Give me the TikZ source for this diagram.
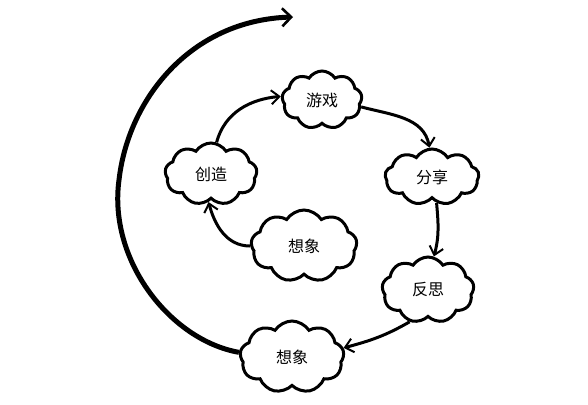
\documentclass[tikz,border=0pt]{standalone}
\usepackage{fontspec}
\setmainfont{Noto Sans CJK SC}
\usetikzlibrary{shapes.symbols,arrows.meta}
\begin{document}
\begin{tikzpicture}[x=1pt,y=-1pt]
	\tikzstyle{every node}+=[font=\fontsize{16}{18}\selectfont]
	\tikzstyle{bubble}=[cloud, cloud puffs=9, cloud puff arc=115, draw=black, line width=3pt, inner sep=0pt]
	\tikzstyle{link}=[line width=3pt, -{Straight Barb[length=8pt,width=14pt,line width=2pt]}]
	\useasboundingbox (0,0) rectangle (588,404);
	\node [bubble, minimum width=80, minimum height=58] (play) at (322,100) {游戏};
	\node [bubble, minimum width=92, minimum height=62] (create) at (211,174) {创造};
	\node [bubble, minimum width=106, minimum height=72] (imagineA) at (304,246) {想象};
	\node [bubble, minimum width=94, minimum height=56] (share) at (432,177) {分享};
	\node [bubble, minimum width=92, minimum height=66] (reflect) at (428,290) {反思};
	\node [bubble, minimum width=104, minimum height=72] (imagineB) at (292,357) {想象};
	\coordinate (top) at (293,17);
	\draw [link] (play.-10) to[out=-15,in=100] (share.95);
	\draw [link] (share.-80) to[out=-85,in=75] (reflect.80);
	\draw [link] (reflect.-120) to[out=-150,in=15] (imagineB.10);
	\draw [link] (imagineA.180) to[out=180,in=-75] (create.-95);
	\draw [link] (create.80) to[out=75,in=185] (play.175);
	\draw [line width=5pt, -{Straight Barb[length=9pt,width=18pt,line width=2.6pt]}] (imagineB.175) .. controls (170,340) and (108,260) .. (119,180) .. controls (128,100) and (190,20) .. (top);
\end{tikzpicture}
\end{document}
